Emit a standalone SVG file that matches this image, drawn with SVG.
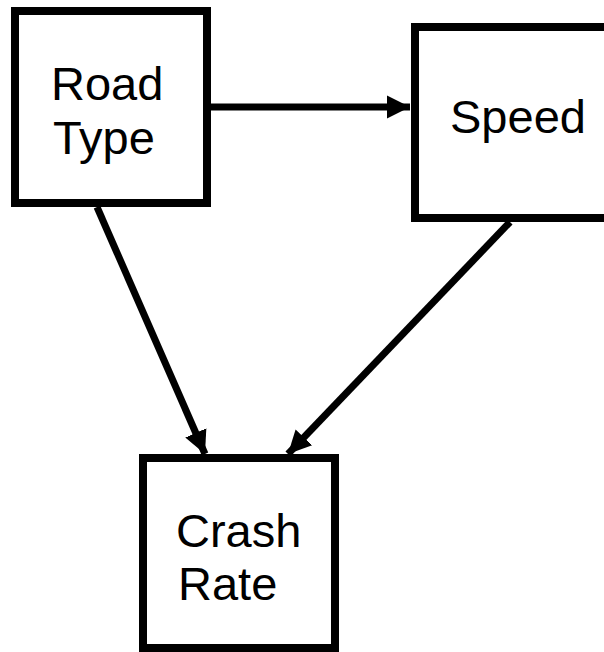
<svg xmlns="http://www.w3.org/2000/svg" width="604" height="652" viewBox="0 0 604 652">
  <style>
    .box { fill: #ffffff; stroke: #000000; stroke-width: 8; }
    .label { font-family: "Liberation Sans", Arial, sans-serif; font-size: 47px; fill: #000000; }
    .edge { stroke: #000000; stroke-width: 7; fill: none; }
  </style>
  <defs>
    <marker id="arrow" markerUnits="userSpaceOnUse" markerWidth="26" markerHeight="26" viewBox="0 0 26 26" refX="23" refY="13" orient="auto">
      <path d="M0,1.5 L23,13 L0,24.5 Z" fill="#000000"/>
    </marker>
  </defs>

  <g id="connectors">
    <line class="edge" x1="211" y1="107" x2="410" y2="107" marker-end="url(#arrow)"/>
    <line class="edge" x1="97" y1="207" x2="205" y2="454" marker-end="url(#arrow)"/>
    <line class="edge" x1="510" y1="222" x2="288" y2="454" marker-end="url(#arrow)"/>
  </g>

  <g id="road-type">
    <rect class="box" x="15" y="11" width="192" height="192"/>
    <text class="label" x="51" y="100">Road</text>
    <text class="label" x="53" y="154">Type</text>
  </g>

  <g id="speed">
    <rect class="box" x="415" y="27" width="200" height="191"/>
    <text class="label" x="450" y="133">Speed</text>
  </g>

  <g id="crash-rate">
    <rect class="box" x="143" y="458" width="192" height="190"/>
    <text class="label" x="176" y="547">Crash</text>
    <text class="label" x="178" y="600">Rate</text>
  </g>
</svg>
